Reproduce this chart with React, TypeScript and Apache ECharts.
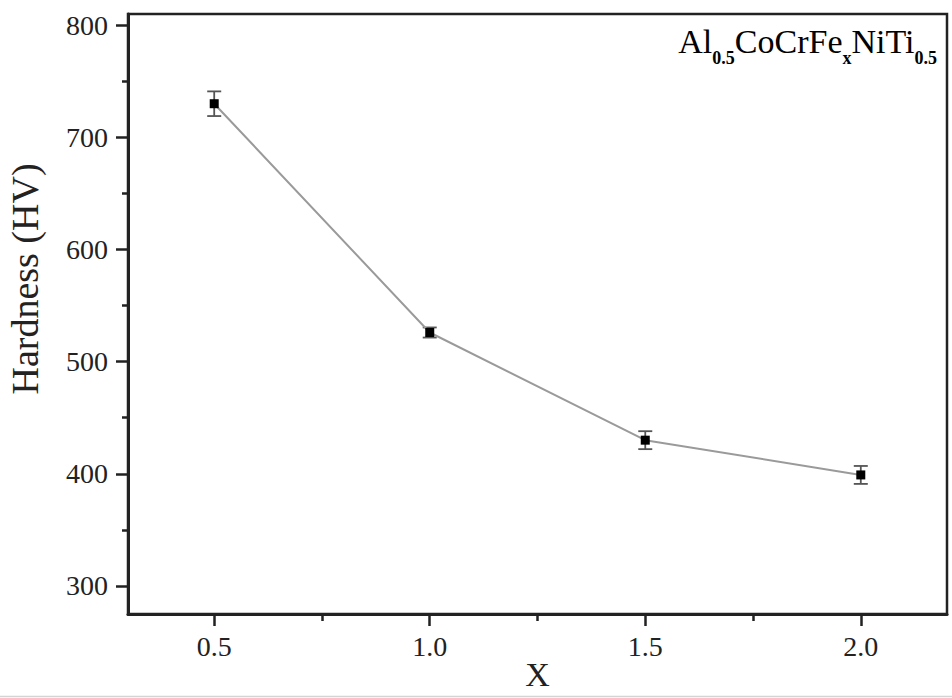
import React, { useEffect, useRef } from "react";
import * as echarts from "echarts";

const xValues = [0.5, 1.0, 1.5, 2.0];
const hardness = [730, 526, 430, 399];
const errors = [11, 4.5, 8, 8];
const xMajorTicks = [0.5, 1.0, 1.5, 2.0];
const xMinorTicks = [0.75, 1.25, 1.75];
const yMajorTicks = [300, 400, 500, 600, 700, 800];
const yMinorTicks = [350, 450, 550, 650, 750];
const xTitle = "X";
const yTitle = "Hardness (HV)";

const FONT = "'Liberation Serif', 'Times New Roman', serif";

export default function App() {
  const ref = useRef<HTMLDivElement>(null);
  useEffect(() => {
    if (!ref.current) return;
    const chart = echarts.init(ref.current, null, { renderer: "svg" });
    const labelStyle = { fontFamily: FONT, fontSize: 28, color: "#222" };
    const option: any = {
      animation: false,
      backgroundColor: "#fff",
      grid: {
        left: 128,
        right: 5,
        top: 14,
        bottom: 84,
        containLabel: false,
        outerBoundsMode: "none",
        show: true,
        borderColor: "#222",
        borderWidth: 2.5,
        backgroundColor: "transparent",
      },
      xAxis: [
        {
          type: "value",
          min: 0.3,
          max: 2.2,
          position: "bottom",
          name: xTitle,
          nameLocation: "middle",
          nameGap: 43,
          nameMoveOverlap: false,
          nameTextStyle: { fontFamily: FONT, fontSize: 34, lineHeight: 34, color: "#222" },
          axisLine: { onZero: false, lineStyle: { color: "#222", width: 3 } },
          axisTick: { customValues: xMajorTicks, inside: false, length: 12, lineStyle: { color: "#222", width: 2.5 } },
          axisLabel: {
            customValues: xMajorTicks,
            margin: 18,
            ...labelStyle,
            formatter: (v: number) => v.toFixed(1),
          },
          splitLine: { show: false },
        },
        {
          type: "value",
          min: 0.3,
          max: 2.2,
          position: "bottom",
          offset: 0,
          axisLine: { show: false, onZero: false },
          axisTick: { customValues: xMinorTicks, inside: false, length: 7, lineStyle: { color: "#222", width: 2.5 } },
          axisLabel: { show: false },
          splitLine: { show: false },
        },
      ],
      yAxis: [
        {
          type: "value",
          min: 275,
          max: 810,
          position: "left",
          name: yTitle,
          nameLocation: "middle",
          nameGap: 84,
          nameRotate: 90,
          nameTextStyle: { fontFamily: FONT, fontSize: 38, color: "#222", padding: [0, 0, 0, 70] },
          axisLine: { onZero: false, lineStyle: { color: "#222", width: 3 } },
          axisTick: { customValues: yMajorTicks, inside: false, length: 12, lineStyle: { color: "#222", width: 2.5 } },
          axisLabel: { customValues: yMajorTicks, margin: 20, ...labelStyle },
          splitLine: { show: false },
        },
        {
          type: "value",
          min: 275,
          max: 810,
          position: "left",
          offset: 0,
          axisLine: { show: false, onZero: false },
          axisTick: { customValues: yMinorTicks, inside: false, length: 6, lineStyle: { color: "#222", width: 2.5 } },
          axisLabel: { show: false },
          splitLine: { show: false },
        },
      ],
      graphic: [
        {
          type: "text",
          x: 937,
          y: 24,
          z: 10,
          style: {
            align: "right",
            verticalAlign: "top",
            text: "{a|Al}{s|0.5}{a|CoCrFe}{s|x}{a|NiTi}{s|0.5}",
            rich: {
              a: { fontFamily: FONT, fontSize: 34, lineHeight: 33, color: "#222", verticalAlign: "top" },
              s: { fontFamily: FONT, fontSize: 18, fontWeight: "bold", lineHeight: 18, color: "#222", padding: [25, 0, 0, 0], verticalAlign: "top" },
            },
          },
        },
        {
          type: "line",
          shape: { x1: 0, y1: 696.5, x2: 952, y2: 696.5 },
          style: { stroke: "#d4d4d4", lineWidth: 1.5 },
        },
      ],
      series: [
        {
          type: "custom",
          xAxisIndex: 0,
          yAxisIndex: 0,
          z: 1,
          data: xValues.map((x, i) => [x, hardness[i], errors[i]]),
          encode: { x: 0, y: 1 },
          renderItem: (params: any, api: any) => {
            const x = api.value(0);
            const y = api.value(1);
            const e = api.value(2);
            const top = api.coord([x, y + e]);
            const bot = api.coord([x, y - e]);
            const hw = 7;
            const st = { stroke: "#555", lineWidth: 1.8 };
            return {
              type: "group",
              children: [
                { type: "line", shape: { x1: top[0], y1: top[1], x2: bot[0], y2: bot[1] }, style: st },
                { type: "line", shape: { x1: top[0] - hw, y1: top[1], x2: top[0] + hw, y2: top[1] }, style: st },
                { type: "line", shape: { x1: bot[0] - hw, y1: bot[1], x2: bot[0] + hw, y2: bot[1] }, style: st },
              ],
            };
          },
        },
        {
          type: "line",
          xAxisIndex: 0,
          yAxisIndex: 0,
          z: 2,
          data: xValues.map((x, i) => [x, hardness[i]]),
          symbol: "rect",
          symbolSize: 9,
          itemStyle: { color: "#000" },
          lineStyle: { color: "#9a9a9a", width: 2 },
        },
      ],
    };
    chart.setOption(option);
    return () => chart.dispose();
  }, []);
  return (
    <div
      ref={ref}
      style={{ position: "fixed", left: 0, top: 0, width: 952, height: 698, background: "#fff" }}
    />
  );
}
